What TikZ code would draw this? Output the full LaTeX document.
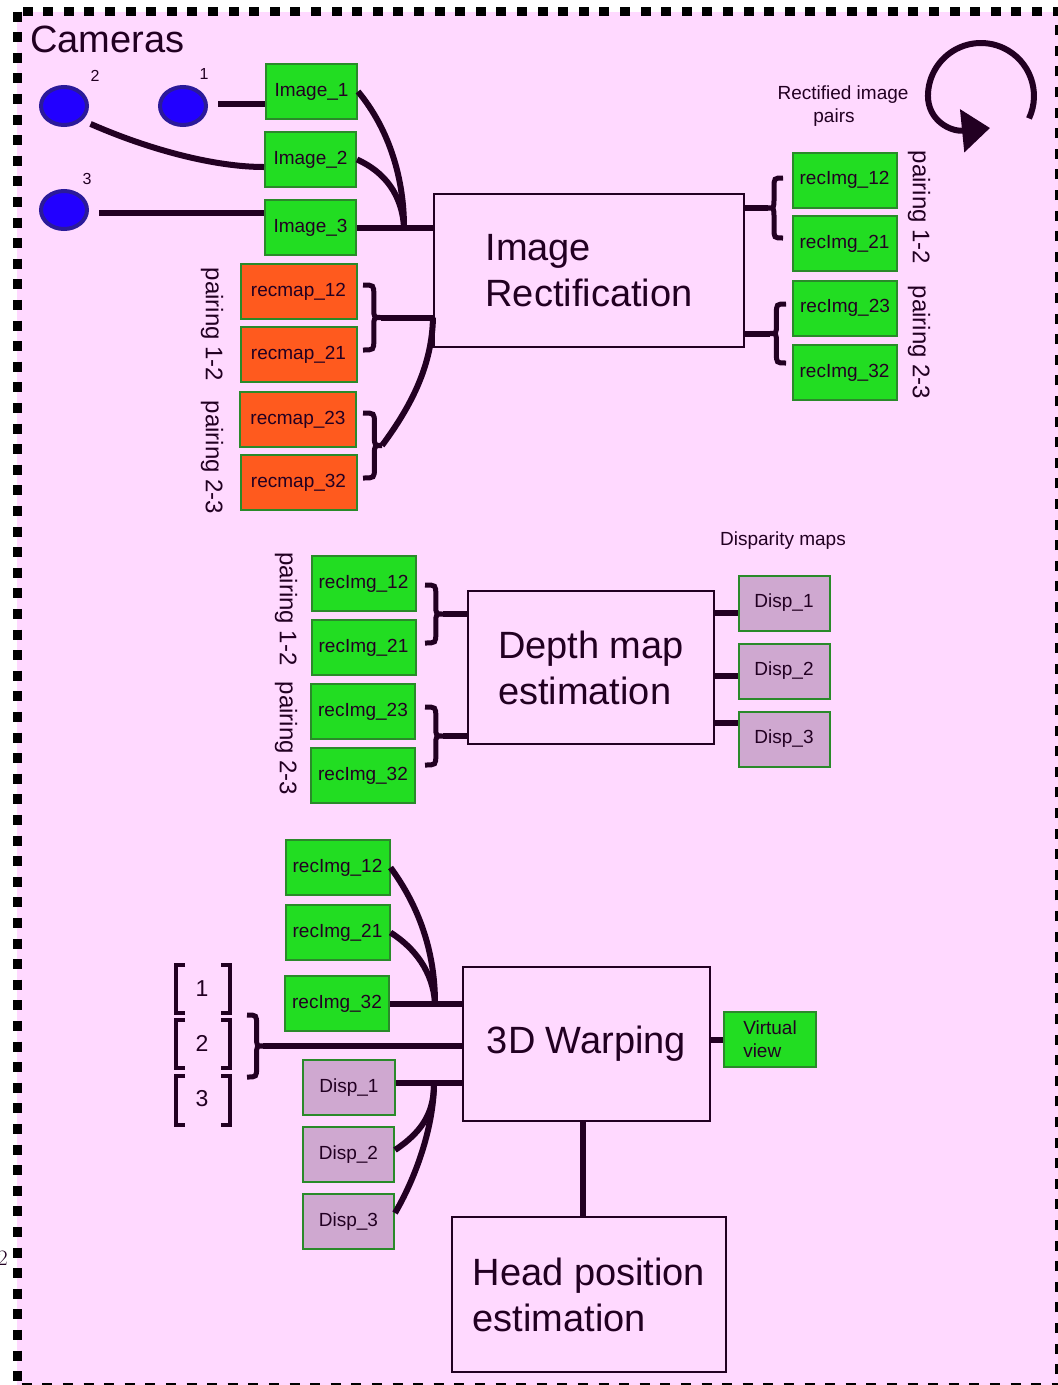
\documentclass[tikz,border=0pt]{standalone}
\usepackage{fontspec}
\newfontfamily\ar{Liberation Sans}
\usetikzlibrary{shapes.geometric,arrows.meta}
\definecolor{bgpink}{HTML}{FFD9FF}
\definecolor{dk}{HTML}{220022}
\definecolor{gfill}{HTML}{22DD22}
\definecolor{gline}{HTML}{2A8A2A}
\definecolor{ofill}{HTML}{FF5A1E}
\definecolor{lfill}{HTML}{CFA8D0}
\definecolor{bfill}{HTML}{2200FF}
\definecolor{bline}{HTML}{2B1A9A}
% x0, ytop, ybot, signed amplitude
\newcommand\mybrace[4]{%
  \draw[bracestyle] (#1,#2) .. controls ({#1+0.6*(#4)},#2) .. ({#1+0.6*(#4)},{#2+10})
    -- ({#1+0.6*(#4)},{(#2+#3)/2-9}) .. controls ({#1+0.6*(#4)},{(#2+#3)/2}) .. ({#1+(#4)},{(#2+#3)/2})
    .. controls ({#1+0.6*(#4)},{(#2+#3)/2}) .. ({#1+0.6*(#4)},{(#2+#3)/2+9})
    -- ({#1+0.6*(#4)},{#3-10}) .. controls ({#1+0.6*(#4)},#3) .. (#1,#3);}
% ytop, ybot
\newcommand\mybrk[2]{%
  \draw[brkstyle] (185,#1) -- (176,#1) -- (176,#2) -- (185,#2);
  \draw[brkstyle] (221,#1) -- (230,#1) -- (230,#2) -- (221,#2);}
\begin{document}
\begin{tikzpicture}[x=1pt,y=-1pt,
  every node/.style={text=dk},
  smallf/.style={font=\ar\fontsize{19}{23}\selectfont},
  bigf/.style={font=\ar\fontsize{38}{46}\selectfont},
  pairf/.style={font=\ar\fontsize{24}{28}\selectfont, rotate=-90, inner sep=0pt},
  boxbase/.style={draw=gline, line width=2pt, inner sep=0pt, minimum height=55pt, smallf},
  gbox/.style={boxbase, fill=gfill},
  obox/.style={boxbase, fill=ofill, minimum width=116pt},
  lbox/.style={boxbase, fill=lfill, minimum width=91pt},
  ibox/.style={gbox, minimum width=91pt},
  rbox/.style={gbox, minimum width=104pt},
  proc/.style={draw=dk, line width=2pt, fill=bgpink, inner sep=0pt, bigf, align=left},
  cam/.style={ellipse, draw=bline, fill=bfill, line width=4pt, minimum width=46pt, minimum height=38pt, inner sep=0pt},
  conn/.style={draw=dk, line width=6pt},
  bracestyle/.style={draw=dk, line width=5pt},
  brkstyle/.style={draw=dk, line width=4pt},
]
\useasboundingbox (0,0) rectangle (1058,1385);
% background and border
\fill[bgpink] (17,11.5) rectangle (1059.5,1387);
\draw[line width=9pt, dash pattern=on 10pt off 10.6pt] (17,11.5) -- (17,1387) -- (1059.5,1387) -- (1059.5,11.5) -- cycle;
\node[anchor=south east, inner sep=0pt, font=\rmfamily\fontsize{22}{22}\selectfont] (pg) at (8,1266) {2};

% cameras
\node[anchor=base west, inner sep=0pt, font=\ar\fontsize{38}{44}\selectfont] (camlabel) at (30,52) {Cameras};
\node[cam] (cam2) at (64,106) {};
\node[cam] (cam1) at (183,106) {};
\node[cam] (cam3) at (64,210) {};
\node[font=\ar\fontsize{16}{18}\selectfont, inner sep=0pt] (l2) at (95,76) {2};
\node[font=\ar\fontsize{16}{18}\selectfont, inner sep=0pt] (l1) at (204,74) {1};
\node[font=\ar\fontsize{16}{18}\selectfont, inner sep=0pt] (l3) at (87,179) {3};

\node[ibox] (img1) at (311.5,91.5) {Image\_1};
\node[ibox] (img2) at (310.5,159.5) {Image\_2};
\node[ibox] (img3) at (310.5,227.5) {Image\_3};

\node[obox] (rm12) at (298.5,291.5) {recmap\_12};
\node[obox] (rm21) at (298.5,354.5) {recmap\_21};
\node[obox] (rm23) at (298,419.5) {recmap\_23};
\node[obox] (rm32) at (298.5,482.5) {recmap\_32};
\node[pairf] (pl1) at (212,324.5) {pairing 1-2};
\node[pairf] (pl2) at (212,457.5) {pairing 2-3};

\node[proc, minimum width=310pt, minimum height=153pt] (rect) at (589,270.5) {Image\\Rectification};

\node[rbox] (ri12) at (844.5,180) {recImg\_12};
\node[rbox] (ri21) at (844.5,243.5) {recImg\_21};
\node[rbox] (ri23) at (845,308) {recImg\_23};
\node[rbox] (ri32) at (844.5,372.5) {recImg\_32};
\node[pairf] (pr1) at (919,207.5) {pairing 1-2};
\node[pairf] (pr2) at (919,342.5) {pairing 2-3};
\node[smallf, align=center, inner sep=0pt] (rip) at (843,106) {Rectified image\\pairs\hspace*{18pt}};

% circular arrow
\draw[conn, -{Triangle[length=28pt,width=42pt]}] (1029,118.4) arc[start angle=25, end angle=-180, radius=53]
  .. controls (928,120) and (950,132) .. (990,128);

% connections rectification
\coordinate (j1) at (404,227);
\draw[conn, shorten <=10pt] (cam1.east |- 0,104) -- (img1.west |- 0,104);
\draw[conn, shorten <=9pt] (cam2.-38) .. controls (150,150) and (215,167) .. (img2.west |- 0,167);
\draw[conn, shorten <=10pt] (cam3.east |- 0,213) -- (img3.west |- 0,213);
\draw[conn] (img1.east) .. controls (390,130) and (404,180) .. (j1);
\draw[conn] (img2.east) .. controls (385,172) and (402,195) .. (j1);
\draw[conn] (img3.east) -- (rect.west |- img3.east);

\mybrace{363}{285}{350}{18}
\mybrace{363}{413}{478}{19}
\coordinate (b1) at (381,317.5);
\coordinate (b2) at (382,445.5);
\draw[conn] (b1) -- (rect.west |- b1);
\draw[conn] (b2) .. controls (412,405) and (432,365) .. (rect.west |- b1);

\mybrace{783}{178}{238}{-15}
\mybrace{786}{304}{363}{-16}
\coordinate (b3) at (768,208);
\coordinate (b4) at (770,333.5);
\draw[conn] (rect.east |- b3) -- (b3);
\draw[conn] (rect.east |- b4) -- (b4);

% depth map estimation
\node[smallf, inner sep=0pt] (dmaps) at (783,541) {Disparity maps};
\node[rbox] (d12) at (363.5,583.5) {recImg\_12};
\node[rbox] (d21) at (363.5,647.5) {recImg\_21};
\node[rbox] (d23) at (363,711.5) {recImg\_23};
\node[rbox] (d32) at (363,775.5) {recImg\_32};
\node[pairf] (pd1) at (286,609) {pairing 1-2};
\node[pairf] (pd2) at (286,738.5) {pairing 2-3};
\node[proc, minimum width=246pt, minimum height=153pt] (depth) at (591,667.5) {Depth map\\estimation};
\node[lbox] (dm1) at (784,603) {Disp\_1};
\node[lbox] (dm2) at (784,671) {Disp\_2};
\node[lbox] (dm3) at (784,739) {Disp\_3};

\mybrace{425}{585}{643}{18}
\mybrace{425}{707}{765}{18}
\coordinate (b5) at (443,614);
\coordinate (b6) at (443,736);
\draw[conn] (b5) -- (depth.west |- b5);
\draw[conn] (b6) -- (depth.west |- b6);
\draw[conn] (depth.east |- 0,613) -- (dm1.west |- 0,613);
\draw[conn] (depth.east |- 0,676) -- (dm2.west |- 0,676);
\draw[conn] (depth.east |- 0,723) -- (dm3.west |- 0,723);

% 3D warping
\node[rbox] (w12) at (337.5,867.5) {recImg\_12};
\node[rbox] (w21) at (337.5,932.5) {recImg\_21};
\node[rbox] (w32) at (337,1003.5) {recImg\_32};
\node[lbox, minimum width=92pt] (wd1) at (349,1087.5) {Disp\_1};
\node[lbox] (wd2) at (348.5,1154.5) {Disp\_2};
\node[lbox] (wd3) at (348.5,1221.5) {Disp\_3};
\node[proc, minimum width=247pt, minimum height=154pt] (warp) at (586.5,1044) {3D Warping};
\node[gbox, minimum width=92pt, align=left] (vv) at (770,1039.5) {Virtual\\view};
\node[proc, minimum width=274pt, minimum height=155pt] (head) at (589,1294.5) {Head position\\estimation};

\mybrk{965}{1013}
\mybrk{1020}{1068}
\mybrk{1076}{1125}
\node[font=\ar\fontsize{23}{26}\selectfont, inner sep=0pt] (n1) at (202,989) {1};
\node[font=\ar\fontsize{23}{26}\selectfont, inner sep=0pt] (n2) at (202,1043) {2};
\node[font=\ar\fontsize{23}{26}\selectfont, inner sep=0pt] (n3) at (202,1099) {3};

\mybrace{247}{1015}{1077}{16}
\coordinate (b7) at (263,1046);
\draw[conn] (b7) -- (warp.west |- b7);

\coordinate (j2) at (435,1003);
\draw[conn] (w12.east) .. controls (418,905) and (435,950) .. (j2);
\draw[conn] (w21.east) .. controls (415,948) and (433,972) .. (j2);
\draw[conn] (w32.east) -- (warp.west |- w32.east);

\coordinate (j3) at (434,1083);
\draw[conn] (wd1.east |- j3) -- (warp.west |- j3);
\draw[conn] (wd2.east |- 0,1150) .. controls (425,1130) and (434,1110) .. (j3);
\draw[conn] (wd3.east |- 0,1213) .. controls (420,1170) and (434,1120) .. (j3);

\draw[conn] (warp.east |- vv.west) -- (vv.west);
\coordinate (hv) at (583,0);
\draw[conn] (warp.south -| hv) -- (head.north -| hv);
\end{tikzpicture}
\end{document}
